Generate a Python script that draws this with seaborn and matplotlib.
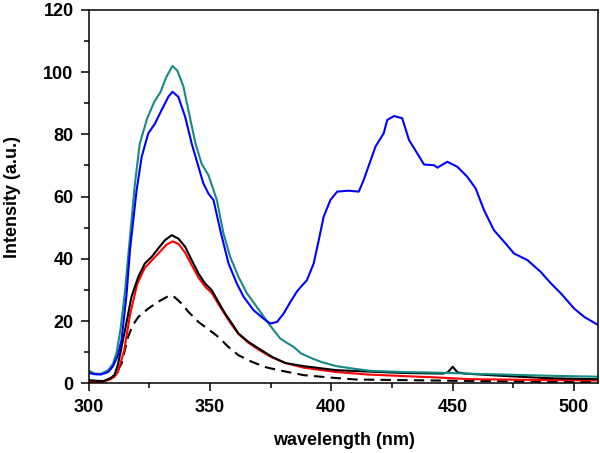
import numpy as np
import pandas as pd
import matplotlib
matplotlib.use('Agg')
import matplotlib.pyplot as plt
from matplotlib.ticker import MultipleLocator
import seaborn as sns

## Datos (longitud de onda en nm, intensidad en u.a.)

teal_wl = [300, 302.5, 305, 308, 310, 311.5, 313, 315, 316.5, 319, 321, 324, 327, 329.5, 332, 334.5,
           336.5, 339, 341, 344, 346.5, 349.3, 352.8, 355.5, 358.3, 361.7, 365.2, 369.3, 374.1,
           378.9, 381, 384.4, 387.5, 392, 396, 402, 410, 416, 430, 444, 460, 471, 490, 510]
teal_int = [4.0, 3.1, 3.0, 4.2, 6.3, 10, 17, 30, 43, 64, 77, 85, 90.5, 93.5, 98.5, 102,
            100.5, 95.4, 88, 77, 70.6, 66.9, 58.9, 48.2, 40.6, 34.2, 28.9, 24.5, 19.2,
            14.4, 13.3, 11.7, 9.6, 8, 6.8, 5.5, 4.6, 4, 3.6, 3.4, 3.0, 2.8, 2.4, 2.1]

blue_wl = [300, 302.5, 305, 308, 310, 312, 313.5, 315.5, 317, 319.7, 321.8, 324.5, 327.3, 330, 332.8,
           334.5, 336.9, 339.7, 342.4, 345.2, 347.2, 349.3, 351.4, 354.4, 357.6, 361, 363.8,
           367.9, 372, 374.8, 377.6, 380.3, 383, 385.8, 388, 389.9, 392.7, 394.8, 396.8, 399.6,
           402.4, 407.1, 411.3, 413.3, 418.2, 421.6, 423, 425.8, 429.2, 432, 435.4, 438.2, 442.3,
           443.7, 447.8, 451.9, 456, 459.5, 462.9, 467, 471.2, 475.3, 480.8, 486.3, 490.5, 494.6,
           500.1, 504.3, 510]
blue_int = [3.3, 2.9, 2.8, 3.6, 5.5, 9, 14, 28, 43, 62, 72.8, 80.3, 83.5, 87.8, 92.1,
            93.7, 92.1, 85.7, 77.1, 69.6, 64.3, 61, 58.9, 48.5, 38.5, 32.1, 27.8,
            23.5, 20.8, 19.2, 19.7, 22.4, 26, 29.5, 31.5, 33.1, 38.5, 46, 53.5, 58.9,
            61.6, 61.9, 61.6, 65.3, 76.1, 80.4, 84.6, 85.9, 85.2, 78.2, 73.9, 70.3, 70.1,
            69.3, 71.2, 69.6, 66.4, 62.6, 55.7, 49.2, 45.5, 41.7, 39.6, 35.8, 32.1, 28.9,
            24, 21.3, 18.7]

black_wl = [300, 303, 306, 308.7, 310.5, 312, 314.9, 317.6, 320.4, 323.1, 325.9, 328.6, 331.4, 334.2,
            336.9, 339.7, 342.4, 345.2, 347.9, 350.7, 353.4, 356.2, 359, 361.7, 365.8, 370, 375.5,
            381, 388.6, 402, 420, 430, 446, 448, 450, 452, 455, 470, 490, 510]
black_int = [1.0, 0.8, 0.7, 1.5, 2.5, 6, 17, 27.8, 34.2, 38.5, 40.6, 43.3, 46, 47.6,
             46.5, 43.9, 39.6, 35.3, 32.1, 29.9, 26.2, 22.4, 19.2, 16, 13.3, 11.2, 8.5,
             6.5, 5.5, 4.2, 3.6, 3.3, 3.1, 3.5, 5.3, 3.5, 3.1, 2.4, 1.6, 1.3]

red_wl = [300, 302.5, 304.5, 306, 308.7, 310.5, 312, 314.6, 317, 320, 323, 326, 329, 332, 334.5,
          337, 339.7, 342.4, 345.2, 348, 350.7, 353.4, 356.2, 359, 361.7, 365.8, 370, 375, 381,
          388.6, 402, 415, 430, 445, 457.5, 480, 510]
red_int = [0.3, 0.5, 0, 0.5, 1.2, 2, 3.6, 10.6, 22, 32, 37, 39.5, 42, 44.5, 45.6,
           44.8, 42, 38, 34, 31, 29, 25.5, 22, 18.7, 15.8, 13, 10.8, 8.5, 6.5,
           5, 3.6, 2.8, 2.3, 1.8, 1.3, 1.1, 0.9]

dash_wl = [300, 303.8, 306, 309.4, 311.5, 313.5, 316.2, 318, 320.4, 324.5, 328.6, 332.8, 334.9,
           338.3, 341, 345.2, 348, 353.4, 357.5, 361.7, 367.2, 372.7, 378.2, 388.6, 400, 410,
           430, 450, 480, 510]
dash_int = [0.8, 0.4, 0.7, 1.7, 3.5, 6.3, 14.9, 18.5, 21.3, 24, 26.2, 28, 28,
            25.6, 23, 19.7, 18.1, 14.9, 11.7, 9, 6.9, 5.2, 4.2, 2.6, 1.8, 1.2,
            1.0, 0.8, 0.6, 0.4]

x_ticks = [300, 350, 400, 450, 500]
y_ticks = [0, 20, 40, 60, 80, 100, 120]

## Estilo

sns.set_style('ticks')
plt.rcParams['font.family'] = ['Liberation Sans', 'DejaVu Sans']
plt.rcParams['font.weight'] = 'bold'
plt.rcParams['axes.labelweight'] = 'bold'
plt.rcParams['text.color'] = 'black'
plt.rcParams['axes.labelcolor'] = 'black'
plt.rcParams['xtick.color'] = 'black'
plt.rcParams['ytick.color'] = 'black'

fig = plt.figure(figsize = (6, 4.53), dpi = 100)
ax = fig.add_axes([0.148, 0.154, 0.849, 0.824])

series = [
    (dash_wl, dash_int, 'black', (0, (5, 3))),
    (red_wl, red_int, '#ff0000', '-'),
    (black_wl, black_int, 'black', '-'),
    (teal_wl, teal_int, '#168a82', '-'),
    (blue_wl, blue_int, '#0000ff', '-'),
]

for wl, inten, col, ls in series:
    df = pd.DataFrame({'wl': wl, 'I': inten})
    sns.lineplot(data = df, x = 'wl', y = 'I', ax = ax, color = col, linewidth = 1.5,
                 linestyle = ls, estimator = None, sort = False)

ax.set_xlim(300, 510)
ax.set_ylim(0, 120)
ax.set_xticks(x_ticks)
ax.set_yticks(y_ticks)
ax.xaxis.set_minor_locator(MultipleLocator(25))
ax.yaxis.set_minor_locator(MultipleLocator(10))
ax.tick_params(which = 'major', direction = 'out', length = 6, width = 1.1, labelsize = 13, pad = 5)
ax.tick_params(which = 'minor', direction = 'out', length = 3.5, width = 1.1)
ax.tick_params(top = False, right = False, which = 'both')
for s in ax.spines.values():
    s.set_visible(True)
    s.set_linewidth(1.1)
    s.set_color('black')

ax.set_xlabel('wavelength (nm)', fontsize = 13, labelpad = 12)
ax.set_ylabel('Intensity (a.u.)', fontsize = 13, labelpad = 16)

plt.savefig('out.png', dpi = 100)
